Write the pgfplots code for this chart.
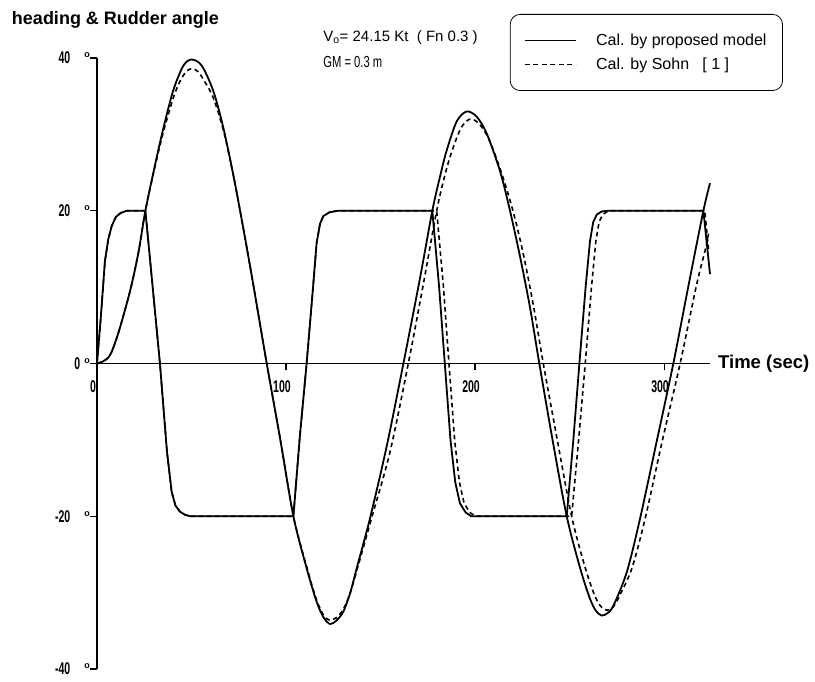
\documentclass[border=0pt]{standalone}
\usepackage{fontspec}
\setmainfont{Liberation Sans}
\usepackage{pgfplots}
\pgfplotsset{compat=1.18}

% narrow tick numbers and a small raised degree ring
\newcommand\sqz[1]{\scalebox{0.62}[1]{#1}}
\newcommand\dg{\raisebox{6pt}{\fontsize{9}{9}\selectfont o}}

\begin{document}
\begin{tikzpicture}
\begin{axis}[
  scale only axis, width=613pt, height=611pt,
  xmin=0, xmax=324.3, ymin=-40, ymax=40,
  axis x line=middle, axis y line=left,
  axis line style={-, line width=1.1pt},
  hide obscured x ticks=false, hide obscured y ticks=false,
  xtick={0,100,200,300},
  xticklabels={\sqz{0},\sqz{100},\sqz{200},\sqz{300}},
  ytick={-40,-20,0,20,40},
  yticklabels={\sqz{-40}\hspace{14pt}\dg,\sqz{-20}\hspace{14pt}\dg,\sqz{0}\hspace{4pt}\dg\hspace{6pt},\sqz{20}\hspace{14pt}\dg,\sqz{40}\hspace{14pt}\dg},
  xtick align=outside, ytick align=outside, major tick length=7pt,
  tick style={line width=1.1pt, black},
  xticklabel style={font=\bfseries\fontsize{17}{17}\selectfont, anchor=north, inner sep=0pt, yshift=-10pt, xshift=-4pt},
  yticklabel style={font=\bfseries\fontsize{17}{17}\selectfont, anchor=east, inner sep=0pt},
  xlabel={Time (sec)},
  xlabel style={at={(axis description cs:1.013,0.5)}, anchor=west, inner sep=0pt, font=\bfseries\fontsize{18.5}{18.5}\selectfont},
  legend style={at={(axis description cs:1.119,1.072)}, anchor=north east, draw=black, line width=0.8pt,
    rounded corners=10pt, inner xsep=14pt, inner ysep=18pt, font=\fontsize{16}{16}\selectfont,
    row sep=6pt, legend cell align=left},
  legend image code/.code={\draw[#1, line width=0.9pt] (0pt,0pt) -- (51pt,0pt);},
  clip=false,
]
% legend samples
\addlegendimage{black, solid}
\addlegendentry{\hspace{18pt}Cal. by proposed model\hspace{3pt}}
\addlegendimage{black, dash pattern=on 5pt off 3.5pt}
\addlegendentry{\hspace{18pt}Cal. by Sohn\ \ \ [ 1 ]}

% short tick marks hanging below the time axis
\pgfplotsinvokeforeach{100,200,300}{
  \draw[line width=1.1pt] (axis cs:#1,0) -- ++(0pt,-7pt);
}

% heading, Sohn
\addplot[black, line width=1.6pt, dash pattern=on 4.5pt off 3.5pt, smooth, forget plot] coordinates {
(0,0) (3,0.25) (6.9,1.1) (11.3,4.0) (17.5,9.5) (21.9,14.5) (25.6,20) (30.7,25.8) (35.1,30.3)
(40.4,34.8) (44,37.0) (47.5,38.3) (50.5,38.6) (53.5,38.2) (57,36.9) (61.5,34.8) (66.8,30.6)
(72.1,24.7) (77.4,17.7) (82.7,10.3) (89.8,0) (97,-10) (103.9,-20) (110.9,-26.6) (116.2,-31.0)
(120,-33.0) (123,-33.6) (126.5,-33.3) (130.3,-32.2) (134,-30.0) (137.8,-26.8) (145.2,-20.3)
(155,-11.6) (164.7,0) (172.5,10.2) (179.7,20) (184,24.6) (187.5,27.6) (192.5,30.8) (197.4,32.0)
(202.5,31.3) (208,29.0) (215,24.2) (220.8,19.3) (226,13.8) (231.3,7.0) (236.1,0) (243.5,-10)
(251.1,-20) (258,-26.5) (263,-30.2) (266.5,-31.8) (269.7,-32.3) (273,-31.9) (276.5,-30.4)
(283,-26.8) (290,-20.3) (299,-10.2) (308.5,0) (317.2,10.3) (322.2,15.3) (323.5,17)
};
% rudder, Sohn
\addplot[black, line width=1.6pt, dash pattern=on 4.5pt off 3.5pt, forget plot] coordinates {
(0,0) (2,6) (4.2,13.4) (6,16.3) (7.8,18) (10,19.2) (12.5,19.7) (15.7,20) (25.6,20) (33.3,0)
(37,-11.5) (39.5,-16.8) (41.5,-18.6) (43.9,-19.4) (46.5,-19.8) (49.2,-20) (103.9,-20)
(107.4,-9.3) (110.9,0) (114.4,10.3) (116.2,15.8) (118,18.3) (119.7,19.3) (123,19.8) (127.5,20)
(179.7,20) (183.3,10) (186.2,0) (189.2,-10) (191.7,-15.5) (194.2,-18.3) (197.2,-19.5) (200.2,-20)
(251.1,-20) (254.8,-10) (258.3,0) (261.6,10) (263.9,16) (265.6,18.5) (267.5,19.5) (270,19.9)
(272.5,20) (321.5,20) (323.5,15)
};
% heading, proposed model
\addplot[black, line width=1.8pt, smooth, forget plot] coordinates {
(0,0) (3,0.25) (6.9,1.1) (11.3,4.0) (17.5,9.5) (21.9,14.5) (25.6,20) (30.7,26) (35.1,30.8)
(40.4,35.8) (45.7,39.0) (50.1,39.8) (55.4,39.0) (61.5,35.7) (66.8,30.9) (72.1,24.7) (77.4,17.7)
(82.7,10.3) (89.8,0) (97,-10) (103.9,-20) (110.9,-26.8) (116.2,-31.2) (120,-33.3) (123.3,-34.1)
(126.5,-33.7) (130.3,-32.5) (134,-30.0) (137.4,-26.8) (144.4,-20.3) (153.3,-10.8) (162.1,0)
(170.9,11.2) (177.4,20) (181.5,24.5) (185,27.9) (190.3,31.7) (195.6,33.0) (200.9,32.3)
(206.2,30.1) (213.2,25.2) (218.5,20) (223.8,14.0) (229.1,7.3) (234,0) (241,-10) (248.5,-20)
(255.6,-26.8) (260.8,-30.8) (264,-32.4) (267,-33.0) (270,-32.7) (273.2,-31.7) (280.3,-27.3)
(287.3,-20.3) (296.1,-10.2) (304.9,0) (313,10.3) (320.8,20) (324.3,23.6)
};
% rudder, proposed model
\addplot[black, line width=1.8pt, forget plot] coordinates {
(0,0) (2,6) (4.2,13.4) (6,16.3) (7.8,18) (10,19.2) (12.5,19.7) (15.7,20) (25.6,20) (33.3,0)
(37,-11.5) (39.5,-16.8) (41.5,-18.6) (43.9,-19.4) (46.5,-19.8) (49.2,-20) (103.9,-20)
(107.4,-9.3) (110.9,0) (114.4,10.3) (116.2,15.8) (118,18.3) (119.7,19.3) (123,19.8) (127.5,20)
(177.4,20) (181,10) (184,0) (187,-10) (189.5,-15.5) (192,-18.3) (195,-19.5) (198,-20)
(248.5,-20) (252,-10) (255.2,0) (258.5,10) (260.8,16) (262.5,18.5) (264.4,19.5) (267,19.9)
(269.7,20) (320.8,20) (324.3,11.7)
};

% titles and run conditions
\node[anchor=west, inner sep=0pt, font=\bfseries\fontsize{18}{18}\selectfont]
  at (axis description cs:-0.139,1.062) {heading \& Rudder angle};
\node[anchor=west, inner sep=0pt, font=\fontsize{15}{15}\selectfont]
  at (axis description cs:0.369,1.033) {V\textsubscript{o}= 24.15 Kt\ \ ( Fn 0.3 )};
\node[anchor=west, inner sep=0pt, font=\fontsize{16}{16}\selectfont]
  at (axis description cs:0.369,0.993) {\scalebox{0.7}[1]{GM = 0.3 m}};
\end{axis}
\pgfresetboundingbox
\path (-97pt,-13pt) rectangle (718pt,669pt);
\end{tikzpicture}
\end{document}
